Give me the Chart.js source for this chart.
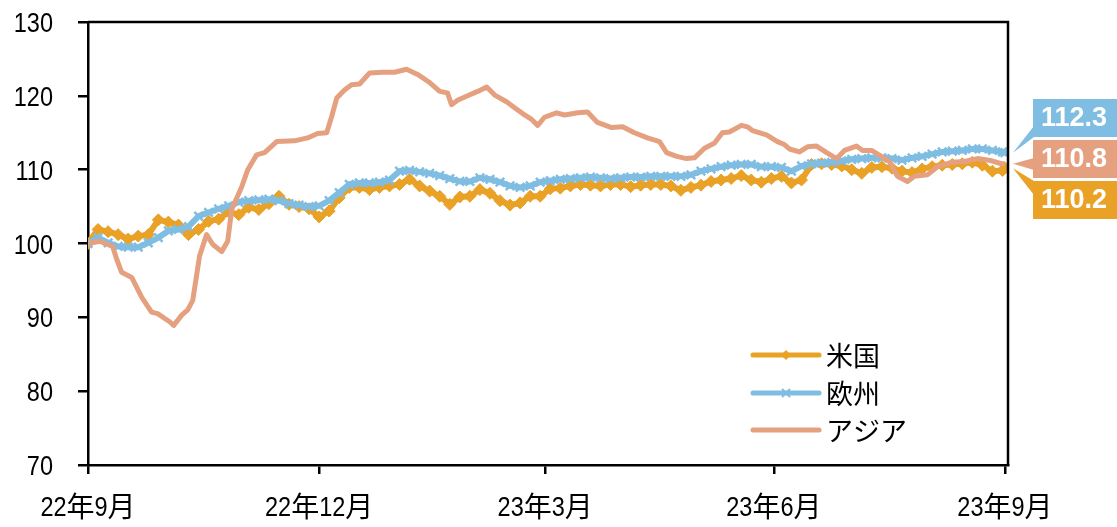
<!DOCTYPE html>
<html>
<head>
<meta charset="utf-8">
<script src="https://cdn.jsdelivr.net/npm/chart.js@4.4.1/dist/chart.umd.min.js"></script>
<style>
  html, body { margin: 0; padding: 0; background: #fff; }
  #wrap { width: 1117px; height: 527px; }
</style>
</head>
<body>
<div id="wrap"><canvas id="chart" width="1117" height="527"></canvas></div>
<script>
// ---------- データ（22年9月 = 0日目） ----------
const seriesNames = ['米国', '欧州', 'アジア'];
const tickDays = [0, 92, 182, 273, 365];
const tickLabels = ['22年9月', '22年12月', '23年3月', '23年6月', '23年9月'];
const yTicks = [70, 80, 90, 100, 110, 120, 130];
const lastLabels = ['110.2', '112.3', '110.8'];

// 米国・欧州は4日おき + 最終日
const gridDays = [];
for (let d = 0; d <= 364; d += 4) gridDays.push(d);
gridDays.push(365);

const usValues = [
  100.0, 101.9, 101.6, 101.2, 100.6, 101.0, 101.2, 103.2, 102.9, 102.5,
  101.2, 101.9, 103.0, 103.3, 104.3, 103.9, 104.9, 104.6, 105.4, 106.4,
  105.3, 105.0, 104.7, 103.6, 104.4, 106.2, 107.6, 107.6, 107.3, 107.6,
  107.8, 108.0, 108.7, 107.8, 107.1, 106.4, 105.3, 106.3, 106.4, 107.3,
  106.8, 105.8, 105.2, 105.5, 106.4, 106.4, 107.4, 107.5, 107.8, 108.0,
  107.9, 107.8, 108.0, 108.0, 107.7, 107.9, 108.0, 108.0, 107.8, 107.2,
  107.6, 107.9, 108.4, 108.6, 108.8, 109.2, 108.6, 108.3, 108.8, 109.1,
  108.2, 108.6, 110.7, 110.8, 110.7, 110.5, 110.0, 109.5, 110.3, 110.4,
  110.2, 109.8, 109.6, 110.1, 110.4, 110.6, 110.7, 110.8, 111.0, 110.6,
  109.8, 109.9, 110.2
];

const euValues = [
  100.0, 100.8, 100.1, 99.6, 99.5, 99.5, 100.1, 100.8, 101.7, 101.9,
  102.3, 103.7, 104.2, 104.7, 105.1, 105.6, 105.8, 105.9, 106.0, 105.8,
  105.4, 105.2, 105.0, 105.1, 105.8, 106.9, 108.0, 108.2, 108.2, 108.3,
  108.6, 109.8, 109.9, 109.7, 109.5, 109.2, 108.8, 108.4, 108.4, 108.9,
  108.7, 108.3, 107.8, 107.6, 107.8, 108.3, 108.5, 108.7, 108.8, 108.9,
  109.0, 108.9, 108.8, 108.9, 109.0, 109.0, 109.1, 109.1, 109.1, 109.1,
  109.3, 109.8, 110.1, 110.4, 110.6, 110.7, 110.7, 110.4, 110.4, 110.3,
  109.8, 110.5, 110.8, 110.9, 111.0, 111.2, 111.4, 111.5, 111.6, 111.6,
  111.5, 111.3, 111.6, 111.8, 112.1, 112.4, 112.5, 112.6, 112.8, 112.8,
  112.6, 112.4, 112.3
];

const asiaDays = [
  0, 4.7, 9.8, 11.4, 13.4, 17.4, 21.4, 25.3, 27.7, 32.5, 34.1, 37.3, 39.7, 41.7,
  44.4, 47.2, 49.6, 53.2, 55.6, 57.2, 61.2, 63.6, 67.1, 70.3, 75.1, 82.2, 87.4,
  91.4, 95, 97, 99, 102.1, 104.9, 108.1, 112.1, 117.3, 122, 126.8, 131.2, 136,
  140, 143.1, 144.7, 147.1, 151.1, 155.1, 158.7, 161.9, 166.6, 169.8, 173, 176.6,
  179, 181.7, 186.5, 189.7, 194.9, 198.9, 200.8, 202.8, 208.4, 212.8, 217.5,
  222.7, 227.5, 230.3, 234.3, 238.2, 241.4, 245.4, 249.4, 252.5, 255.3, 260.1,
  262.5, 264.5, 270.1, 274.4, 277.2, 279.2, 283.2, 286.4, 290, 294, 298, 301.1,
  305.9, 308.3, 311.9, 315.8, 319, 322.2, 326.2, 328.9, 334.1, 338.1, 343.7,
  348.9, 354.1, 359.7, 363.6, 365
];
const asiaValues = [
  100, 100.3, 99.6, 97.9, 96.1, 95.4, 92.7, 90.7, 90.5, 89.4, 88.9, 90.3, 91, 92.3,
  98.3, 101.2, 99.9, 98.9, 100.3, 104.6, 107.7, 110, 112, 112.3, 113.8, 113.9, 114.3,
  114.9, 115, 117.2, 119.7, 120.8, 121.5, 121.6, 123.1, 123.2, 123.2, 123.6, 122.9, 121.8,
  120.6, 120.4, 118.8, 119.4, 120, 120.6, 121.2, 120.1, 119.2, 118.4, 117.6, 116.8,
  116, 117.1, 117.7, 117.4, 117.7, 117.8, 117.1, 116.4, 115.7, 115.8, 115,
  114.3, 113.8, 112.3, 111.8, 111.5, 111.6, 112.9, 113.6, 115, 115.1, 116,
  115.8, 115.3, 114.7, 113.8, 113.4, 112.8, 112.4, 113.1, 113.2, 112.3, 111.5, 112.6,
  113.2, 112.6, 112.6, 111.8, 111.1, 109.1, 108.4, 109.1, 109.3, 110.4, 111,
  111.1, 111.5, 111.2, 110.8, 110.8
];

const colors = ['#E9A126', '#7FBDE3', '#E5A080'];

const toPoints = (xs, ys) => xs.map((x, i) => ({ x: x, y: ys[i] }));

const numFont = "28px 'Liberation Sans', Arial, sans-serif";
const cjkFont = "28px 'Noto Sans CJK JP', sans-serif";
const narrow = 0.84;

// 数字は細身に、漢字はそのまま描く
function drawMixed(ctx, text, x, y, align) {
  const runs = text.match(/[\x00-\x7F]+|[^\x00-\x7F]+/g);
  const widths = runs.map(r => {
    if (/^[\x00-\x7F]+$/.test(r)) {
      ctx.font = numFont;
      return ctx.measureText(r).width * narrow;
    }
    ctx.font = cjkFont;
    return ctx.measureText(r).width;
  });
  const total = widths.reduce((a, b) => a + b, 0);
  let cx = align === 'right' ? x - total : align === 'center' ? x - total / 2 : x;
  ctx.textAlign = 'left';
  ctx.textBaseline = 'alphabetic';
  runs.forEach((r, i) => {
    if (/^[\x00-\x7F]+$/.test(r)) {
      ctx.font = numFont;
      ctx.save();
      ctx.translate(cx, y);
      ctx.scale(narrow, 1);
      ctx.fillText(r, 0, 0);
      ctx.restore();
    } else {
      ctx.font = cjkFont;
      ctx.fillText(r, cx, y + 1);
    }
    cx += widths[i];
  });
}

// ---------- 枠線・軸ラベル・凡例・最終値ラベル ----------
const decorations = {
  id: 'decorations',
  afterDraw(chart) {
    const ctx = chart.ctx;
    const area = chart.chartArea;
    const xs = chart.scales.x;
    const ys = chart.scales.y;

    ctx.save();
    // 上・右の枠
    ctx.strokeStyle = '#000';
    ctx.lineWidth = 2.5;
    ctx.beginPath();
    ctx.moveTo(area.left, area.top);
    ctx.lineTo(area.right, area.top);
    ctx.lineTo(area.right, area.bottom);
    ctx.stroke();

    // 軸ラベル
    ctx.fillStyle = '#000';
    yTicks.forEach(v => drawMixed(ctx, String(v), 53, ys.getPixelForValue(v) + 10, 'right'));
    tickDays.forEach((d, i) => drawMixed(ctx, tickLabels[i], xs.getPixelForValue(d), 516, 'center'));

    // 凡例
    const rows = [355, 393, 430];
    rows.forEach((y, i) => {
      ctx.strokeStyle = colors[i];
      ctx.lineWidth = 5;
      ctx.lineCap = 'round';
      ctx.beginPath();
      ctx.moveTo(753, y);
      ctx.lineTo(819, y);
      ctx.stroke();
      const mx = 786;
      if (i === 0) {
        ctx.fillStyle = colors[0];
        ctx.beginPath();
        ctx.moveTo(mx, y - 5);
        ctx.lineTo(mx + 5, y);
        ctx.lineTo(mx, y + 5);
        ctx.lineTo(mx - 5, y);
        ctx.closePath();
        ctx.fill();
      } else if (i === 1) {
        ctx.strokeStyle = colors[1];
        ctx.lineWidth = 2;
        ctx.lineCap = 'butt';
        ctx.beginPath();
        ctx.moveTo(mx - 4, y - 4); ctx.lineTo(mx + 4, y + 4);
        ctx.moveTo(mx + 4, y - 4); ctx.lineTo(mx - 4, y + 4);
        ctx.stroke();
      }
      ctx.fillStyle = '#000';
      ctx.font = "27px 'Noto Sans CJK JP', sans-serif";
      ctx.textAlign = 'left';
      ctx.textBaseline = 'middle';
      ctx.fillText(seriesNames[i], 826, y + 1);
    });

    // 最終値ラベル
    const boxes = [
      { i: 1, top: 99, base: [126, 137] },
      { i: 2, top: 140, base: [158, 170] },
      { i: 0, top: 181, base: [181, 195] }
    ];
    const lastVals = [usValues[usValues.length - 1], euValues[euValues.length - 1], asiaValues[asiaValues.length - 1]];
    boxes.forEach(b => {
      const tipX = xs.getPixelForValue(365) + 8;
      const tipY = ys.getPixelForValue(lastVals[b.i]);
      ctx.fillStyle = colors[b.i];
      ctx.beginPath();
      ctx.moveTo(1034, b.base[0]);
      ctx.lineTo(tipX, tipY);
      ctx.lineTo(1034, b.base[1]);
      ctx.closePath();
      ctx.fill();
      ctx.fillRect(1033, b.top, 84, 38);
      ctx.fillStyle = '#fff';
      ctx.font = "bold 27px 'Liberation Sans', Arial, sans-serif";
      ctx.textAlign = 'center';
      ctx.textBaseline = 'middle';
      ctx.fillText(lastLabels[b.i], 1074, b.top + 20);
    });
    ctx.restore();
  }
};

const ctx = document.getElementById('chart').getContext('2d');

new Chart(ctx, {
  type: 'line',
  data: {
    datasets: [
      {
        label: seriesNames[0],
        data: toPoints(gridDays, usValues),
        borderColor: colors[0],
        backgroundColor: colors[0],
        borderWidth: 6,
        pointStyle: 'rectRot',
        pointRadius: 6,
        pointBorderWidth: 1,
        order: 3
      },
      {
        label: seriesNames[1],
        data: toPoints(gridDays, euValues),
        borderColor: colors[1],
        backgroundColor: colors[1],
        borderWidth: 6,
        pointStyle: 'crossRot',
        pointRadius: 6,
        pointBorderWidth: 2.5,
        order: 2
      },
      {
        label: seriesNames[2],
        data: toPoints(asiaDays, asiaValues),
        borderColor: colors[2],
        borderWidth: 5,
        pointRadius: 0,
        borderJoinStyle: 'round',
        order: 1
      }
    ]
  },
  options: {
    responsive: false,
    animation: false,
    events: [],
    layout: { padding: { top: 22, right: 109, left: 0, bottom: 0 } },
    plugins: {
      legend: { display: false },
      tooltip: { enabled: false }
    },
    scales: {
      x: {
        type: 'linear',
        min: 0,
        max: 366.2,
        afterFit: scale => { scale.height = 62; },
        afterBuildTicks: axis => { axis.ticks = tickDays.map(v => ({ value: v })); },
        ticks: { display: false },
        grid: { display: true, drawOnChartArea: false, drawTicks: true, tickLength: 9, color: '#000', lineWidth: 2.5 },
        border: { display: true, color: '#000', width: 2.5 }
      },
      y: {
        min: 70,
        max: 130,
        afterFit: scale => { scale.width = 88; },
        afterBuildTicks: axis => { axis.ticks = yTicks.map(v => ({ value: v })); },
        ticks: { display: false },
        grid: { display: true, drawOnChartArea: false, drawTicks: true, tickLength: 10, color: '#000', lineWidth: 2.5 },
        border: { display: true, color: '#000', width: 2.5 }
      }
    }
  },
  plugins: [decorations]
});
</script>
</body>
</html>
